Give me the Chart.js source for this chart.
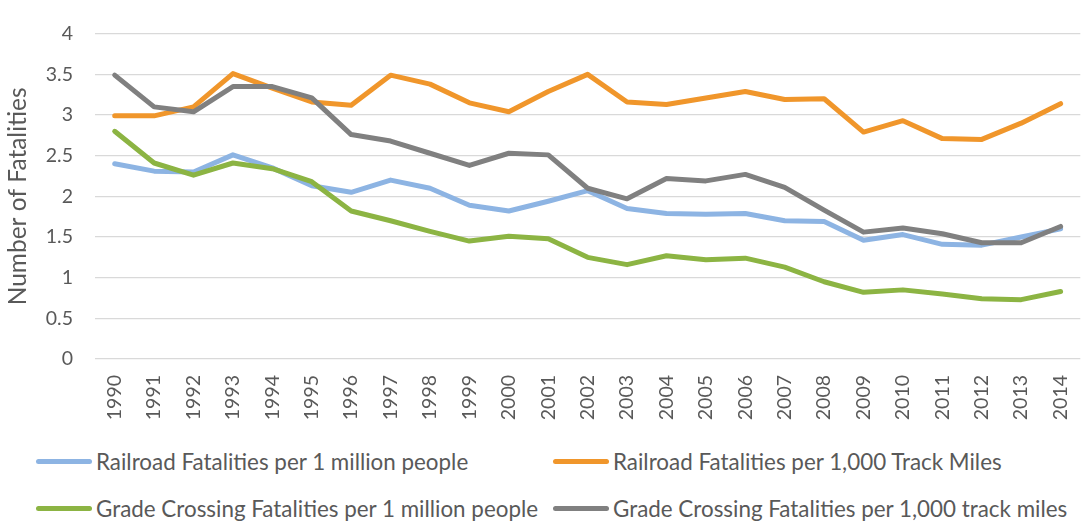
<!DOCTYPE html>
<html>
<head>
<meta charset="utf-8">
<script src="https://cdn.jsdelivr.net/npm/chart.js@4.4.1/dist/chart.umd.min.js"></script>
<style>
  html, body { margin: 0; padding: 0; background: #fff; overflow: hidden; }
  #wrap { position: relative; width: 1092px; height: 430px; }
  #legend { position: absolute; left: 0; top: 440px; width: 1082px; height: 83px;
    font-family: Lato, "Open Sans", sans-serif; font-size: 22.4px; color: #595959; }
  .item { position: absolute; display: flex; align-items: center; white-space: nowrap; }
  .swatch { width: 56px; height: 5px; border-radius: 3px; margin-right: 4px; }
</style>
</head>
<body>
<div id="wrap"><canvas id="myChart" width="1092" height="430"></canvas></div>
<div id="legend"></div>
<script>
const years = ['1990','1991','1992','1993','1994','1995','1996','1997','1998','1999','2000','2001','2002',
  '2003','2004','2005','2006','2007','2008','2009','2010','2011','2012','2013','2014'];

const railPerMillion = [2.40, 2.31, 2.30, 2.51, 2.35, 2.13, 2.05, 2.20, 2.10, 1.89, 1.82, 1.94, 2.07,
  1.85, 1.79, 1.78, 1.79, 1.70, 1.69, 1.46, 1.53, 1.41, 1.40, 1.50, 1.60];
const railPerTrackMiles = [2.99, 2.99, 3.10, 3.51, 3.33, 3.16, 3.12, 3.49, 3.38, 3.15, 3.04, 3.29, 3.50,
  3.16, 3.13, 3.21, 3.29, 3.19, 3.20, 2.79, 2.93, 2.71, 2.70, 2.90, 3.14];
const crossingPerMillion = [2.80, 2.41, 2.26, 2.41, 2.34, 2.18, 1.82, 1.70, 1.57, 1.45, 1.51, 1.48, 1.25,
  1.16, 1.27, 1.22, 1.24, 1.13, 0.95, 0.82, 0.85, 0.80, 0.74, 0.73, 0.83];
const crossingPerTrackMiles = [3.49, 3.10, 3.04, 3.35, 3.35, 3.21, 2.76, 2.68, 2.53, 2.38, 2.53, 2.51, 2.10,
  1.97, 2.22, 2.19, 2.27, 2.11, 1.83, 1.56, 1.61, 1.54, 1.43, 1.43, 1.63];

const seriesNames = [
  'Railroad Fatalities per 1 million people',
  'Railroad Fatalities per 1,000 Track Miles',
  'Grade Crossing Fatalities per 1 million people',
  'Grade Crossing Fatalities per 1,000 track miles'
];
const seriesColors = ['#8db4e3', '#f0962b', '#8cb443', '#808080'];

const textColor = '#595959';
const fontFamily = 'Lato, "Open Sans", sans-serif';

function makeSet(i, values, order) {
  return {
    label: seriesNames[i],
    data: values,
    borderColor: seriesColors[i],
    backgroundColor: seriesColors[i],
    borderWidth: 5,
    pointRadius: 0,
    tension: 0,
    borderCapStyle: 'round',
    borderJoinStyle: 'round',
    order: order
  };
}

const data = {
  labels: years,
  datasets: [
    makeSet(0, railPerMillion, 4),
    makeSet(1, railPerTrackMiles, 3),
    makeSet(2, crossingPerMillion, 2),
    makeSet(3, crossingPerTrackMiles, 1)
  ]
};

const ctx = document.getElementById('myChart').getContext('2d');
const chart = new Chart(ctx, {
  type: 'line',
  data: data,
  options: {
    responsive: false,
    animation: false,
    layout: { padding: { top: 15, right: 0, bottom: 0, left: 0 } },
    plugins: {
      legend: { display: false },
      tooltip: { enabled: false }
    },
    scales: {
      x: {
        offset: true,
        grid: { display: false },
        border: { display: false },
        ticks: {
          color: textColor,
          font: { family: fontFamily, size: 19.5 },
          minRotation: 90,
          maxRotation: 90,
          padding: 8,
          autoSkip: false
        },
        afterFit: (scale) => { scale.height = 71; }
      },
      y: {
        min: 0,
        max: 4,
        grid: { color: '#d9d9d9', lineWidth: 1.3, drawTicks: false },
        border: { display: false },
        ticks: {
          stepSize: 0.5,
          color: textColor,
          font: { family: fontFamily, size: 19.5 },
          padding: 22,
          callback: (v) => String(v)   // 4, 3.5, 3 ... like Excel
        },
        title: {
          display: true,
          text: 'Number of Fatalities',
          color: textColor,
          font: { family: fontFamily, size: 24.5 },
          padding: { top: 3, bottom: 0 }
        },
        afterFit: (scale) => { scale.width = 95; }
      }
    }
  }
});

// Legend laid out in two columns like the original
const legendPos = [[36, 461], [553, 461], [36, 508], [553, 508]];
const legendEl = document.getElementById('legend');
chart.data.datasets.forEach((ds, i) => {
  const item = document.createElement('div');
  item.className = 'item';
  item.style.left = legendPos[i][0] + 'px';
  item.style.top = (legendPos[i][1] - 440 - 14) + 'px';
  item.style.height = '28px';
  const sw = document.createElement('span');
  sw.className = 'swatch';
  sw.style.background = ds.borderColor;
  const txt = document.createElement('span');
  txt.textContent = ds.label;
  item.appendChild(sw);
  item.appendChild(txt);
  legendEl.appendChild(item);
});
</script>
</body>
</html>
